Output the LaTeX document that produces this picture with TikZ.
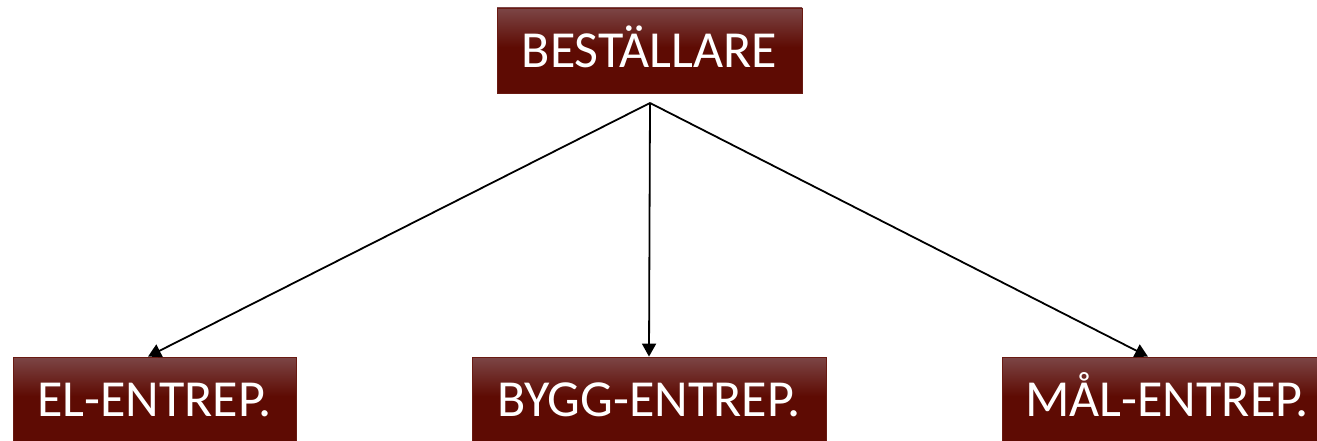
\documentclass[tikz,border=0pt]{standalone}
\usepackage{fontspec}
\setmainfont{Carlito}
\usetikzlibrary{arrows.meta}
\definecolor{boxlight}{HTML}{7C4646}
\definecolor{boxdark}{HTML}{5E0B03}
\definecolor{boxedge}{HTML}{6A1A12}
\pgfdeclareverticalshading{boxshade}{100bp}{color(0bp)=(boxdark); color(52bp)=(boxdark); color(75bp)=(boxlight); color(100bp)=(boxlight)}
\tikzset{
  rolebox/.style={draw=boxedge, line width=0.8pt, shading=boxshade, minimum height=85pt, inner sep=0pt,
    text height=33.5pt, text depth=0pt,
    text=white, font=\fontsize{52}{62}\selectfont},
  link/.style={draw=black, line width=1.8pt, -{Triangle[length=13pt,width=14pt]}}
}
\begin{document}
\begin{tikzpicture}[x=1pt,y=1pt]
\useasboundingbox (0,0) rectangle (1317,440);
\node[rolebox, minimum width=305pt] (best) at (649.5,389.5) {BESTÄLLARE};
\node[rolebox, minimum width=283pt] (el) at (154.5,40.5) {EL-ENTREP.};
\node[rolebox, minimum width=354pt] (bygg) at (649,40.5) {BYGG-ENTREP.};
\node[rolebox, minimum width=330pt] (mal) at (1167,40.5) {MÅL-ENTREP.};
\coordinate (hub) at (650,337);
\draw[link] (hub) -- ([xshift=-6.5pt]el.north);
\draw[link] (hub) -- (bygg.north);
\draw[link] (hub) -- ([xshift=-19pt]mal.north);
\end{tikzpicture}
\end{document}
